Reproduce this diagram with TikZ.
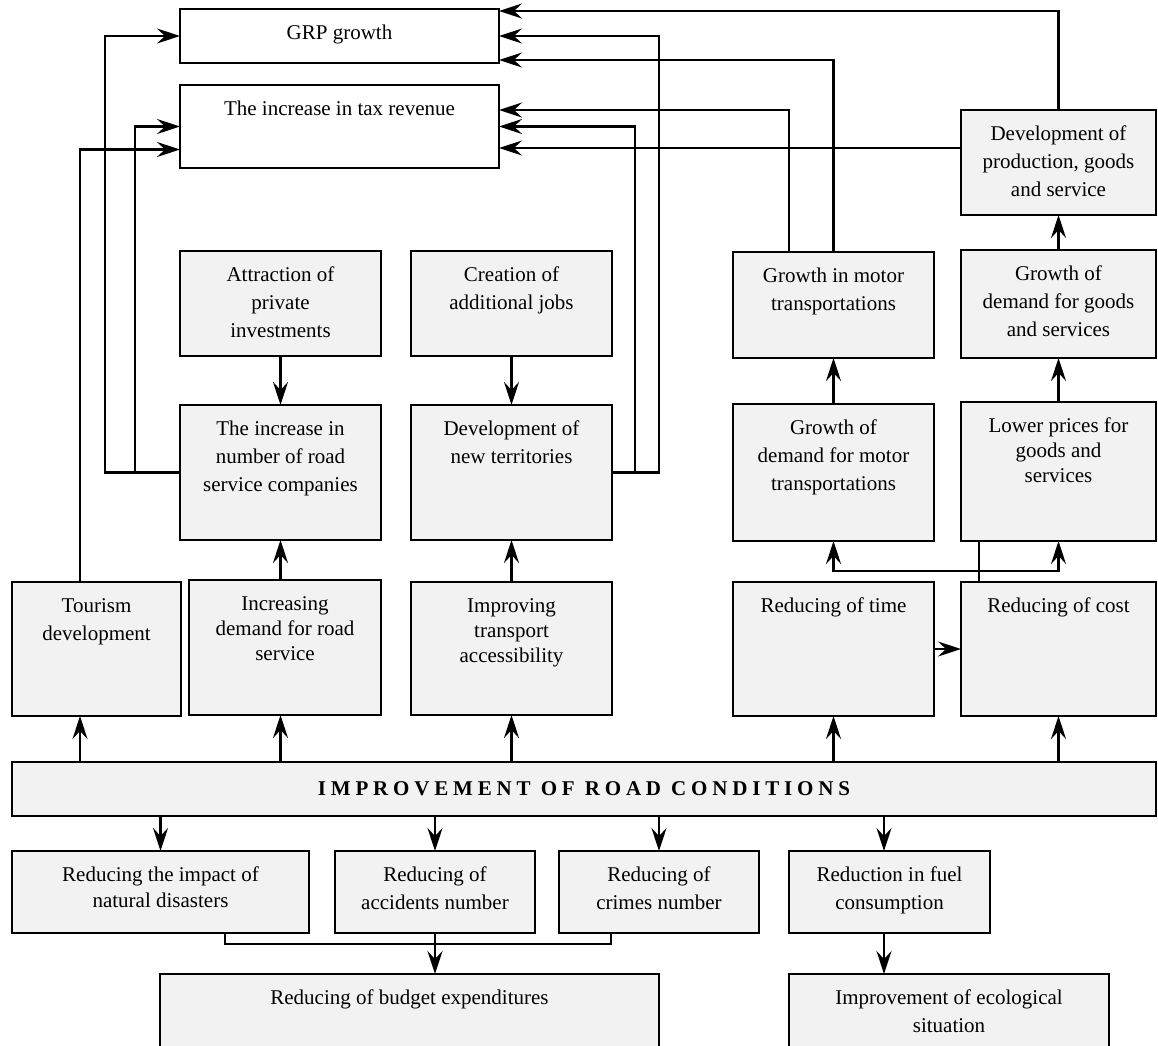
\documentclass[tikz,border=0pt]{standalone}
\usepackage{fontspec}
\setmainfont{Liberation Serif}
\usepackage{tikz}
\usetikzlibrary{arrows.meta, positioning, calc}

\definecolor{boxgray}{HTML}{F2F2F2}
% text block of a box: [line skip]{width}{height}{lines}, set from the top
\newcommand{\boxtxt}[4][28]{\parbox[t][#3pt][t]{#2pt}{\fontsize{21}{#1}\selectfont\centering\vspace*{11pt}\rule{0pt}{19.5pt}#4}}

\begin{document}
\begin{tikzpicture}[
  x=1pt, y=-1pt,
  blk/.style={draw, line width=2.6pt, fill=boxgray, inner sep=0pt, outer sep=0pt, anchor=north west},
  wbox/.style={blk, fill=white},
  arr/.style={-{Stealth[length=23pt, width=15pt, inset=8pt]}, line width=2.4pt},
  ln/.style={line width=2.4pt}
]
  \useasboundingbox (0,0) rectangle (1158,1045);

  % result boxes
  \node[wbox] (grp) at (180,9)  {\boxtxt{319}{54}{GRP growth}};
  \node[wbox] (tax) at (180,85) {\boxtxt{319}{83}{The increase in tax revenue}};

  \node[blk] (prod)  at (961,110) {\boxtxt{195}{105}{Development of\\production, goods\\and service}};
  \node[blk] (attr)  at (180,251) {\boxtxt{201}{105}{Attraction of\\private\\investments}};
  \node[blk] (jobs)  at (411,251) {\boxtxt{201}{105}{Creation of\\additional jobs}};
  \node[blk] (mtr)   at (733,252) {\boxtxt{201}{106}{Growth in motor\\transportations}};
  \node[blk] (gds)   at (961,250) {\boxtxt{195}{108}{Growth of\\demand for goods\\and services}};

  \node[blk] (comp)  at (180,405) {\boxtxt{201}{135}{The increase in\\number of road\\service companies}};
  \node[blk] (terr)  at (411,405) {\boxtxt{201}{135}{Development of\\new territories}};
  \node[blk] (dmtr)  at (733,404) {\boxtxt{201}{137}{Growth of\\demand for motor\\transportations}};
  \node[blk] (price) at (961,402) {\boxtxt[25]{195}{139}{Lower prices for\\goods and\\services}};

  \node[blk] (tour)  at (12,582)  {\boxtxt{169}{134}{Tourism\\development}};
  \node[blk] (drs)   at (189,580) {\boxtxt[25]{192}{135}{Increasing\\demand for road\\service}};
  \node[blk] (acc)   at (411,582) {\boxtxt[25]{201}{133}{Improving\\transport\\accessibility}};
  \node[blk] (time)  at (733,582) {\boxtxt{201}{134}{Reducing of time}};
  \node[blk] (cost)  at (961,582) {\boxtxt{195}{134}{Reducing of cost}};

  % main bar
  \node[blk, minimum width=1144pt, minimum height=54pt] (road) at (12,762)
    {\fontsize{21}{25}\selectfont\bfseries\addfontfeature{LetterSpace=23}IMPROVEMENT OF ROAD CONDITIONS};

  \node[blk] (nat)  at (12,851)  {\boxtxt[26]{297}{82}{Reducing the impact of\\natural disasters}};
  \node[blk] (accd) at (335,851) {\boxtxt{200}{82}{Reducing of\\accidents number}};
  \node[blk] (crim) at (559,851) {\boxtxt{200}{82}{Reducing of\\crimes number}};
  \node[blk] (fuel) at (789,851) {\boxtxt{201}{82}{Reduction in fuel\\consumption}};
  \node[blk] (budg) at (160,974) {\boxtxt{499}{78}{Reducing of budget expenditures}};
  \node[blk] (eco)  at (789,974) {\boxtxt{320}{78}{Improvement of ecological\\situation}};

  % lanes
  \coordinate (laneA) at (80,0);
  \coordinate (laneB) at (105,0);
  \coordinate (laneC) at (135,0);
  \coordinate (laneD) at (635,0);
  \coordinate (laneE) at (659,0);
  \coordinate (laneF) at (789,0);
  \coordinate (laneH) at (979,0);
  \coordinate (laneI) at (884,0);
  \coordinate (laneJ) at (225,0);
  \coordinate (laneK) at (611,0);
  \coordinate (tx3) at ($(tax.north east)+(0,63)$);
  \coordinate (jn) at (979,571);

  % into GRP and tax revenue
  \draw[arr] (prod.north) |- ($(grp.north east)+(0,2)$);
  \draw[arr] (terr.east) -- (terr.east -| laneE) |- (grp.east);
  \draw[arr] (mtr.north) |- ($(grp.south east)+(0,-3)$);
  \draw[arr] (mtr.north -| laneF) |- ($(tax.north east)+(0,25)$);
  \draw[arr] (terr.east -| laneD) |- (tax.east);
  \draw[arr] (prod.west |- tx3) -- (tx3);
  \draw[arr] (comp.west) -- (comp.west -| laneB) |- (grp.west);
  \draw[arr] (comp.west -| laneC) |- (tax.west);
  \draw[arr] (tour.north -| laneA) |- ($(tax.west)+(0,23)$);

  % middle chains
  \draw[arr] (attr.south) -- (comp.north);
  \draw[arr] (jobs.south) -- (terr.north);
  \draw[arr] (drs.north -| comp.south) -- (comp.south);
  \draw[arr] (acc.north) -- (terr.south);
  \draw[arr] (dmtr.north) -- (mtr.south);
  \draw[arr] (price.north) -- (gds.south);
  \draw[arr] (gds.north) -- (prod.south);
  \draw[arr] (time.east) -- (cost.west);
  \draw[ln] (cost.north -| laneH) -- (price.south -| laneH);
  \draw[arr] (jn) -| (dmtr.south);
  \draw[arr] (jn) -| (price.south);

  % from the bar upwards
  \draw[arr] (road.north -| laneA) -- (tour.south -| laneA);
  \draw[arr] (road.north -| comp.south) -- (drs.south -| comp.south);
  \draw[arr] (road.north -| acc.south) -- (acc.south);
  \draw[arr] (road.north -| time.south) -- (time.south);
  \draw[arr] (road.north -| cost.south) -- (cost.south);

  % from the bar downwards
  \draw[arr] (road.south -| nat.north) -- (nat.north);
  \draw[arr] (road.south -| accd.north) -- (accd.north);
  \draw[arr] (road.south -| crim.north) -- (crim.north);
  \draw[arr] (road.south -| laneI) -- (fuel.north -| laneI);
  \draw[arr] (fuel.south -| laneI) -- (eco.north -| laneI);
  \draw[ln] (nat.south -| laneJ) -- ++(0,11) -| (crim.south -| laneK);
  \draw[arr] (accd.south) -- (budg.north -| accd.south);
\end{tikzpicture}
\end{document}
